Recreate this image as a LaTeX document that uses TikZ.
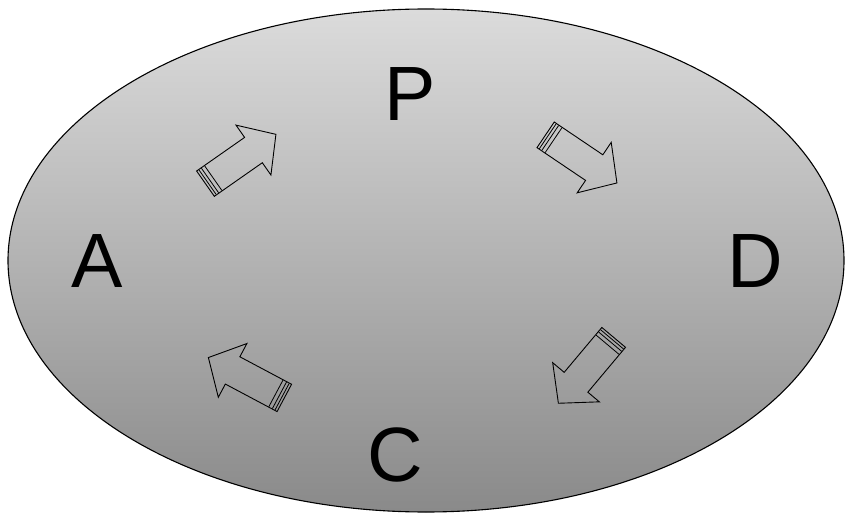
\documentclass[tikz,border=0pt]{standalone}
\usepackage{fontspec}
\setmainfont{Liberation Sans}
\usetikzlibrary{shapes.arrows, calc}

\begin{document}
\begin{tikzpicture}[
    x=1pt, y=1pt,
    letter/.style={font=\fontsize{77}{77}\selectfont, anchor=base, inner sep=0pt},
    flow/.style={single arrow, draw, line width=0.9pt, inner xsep=0pt, inner ysep=15pt,
                 minimum height=86pt, minimum width=0pt,
                 single arrow head extend=15pt, single arrow tip angle=96}
]
\useasboundingbox (0,0) rectangle (845,512);
\draw[line width=1.1pt, top color=black!14, bottom color=black!46]
    (426,251.5) ellipse [x radius=418, y radius=251.5];

\node[letter] (p) at (410,391) {P};
\node[letter] (a) at (97,225) {A};
\node[letter] (d) at (755,225) {D};
\node[letter] (c) at (395,31) {C};

\node[flow, rotate=35] (ap) at (235,349) {};
\node[flow, rotate=-34] (pd) at (575.5,357) {};
\node[flow, rotate=-130] (dc) at (590.5,147) {};
\node[flow, rotate=152] (ca) at (252.5,131) {};

% stripes at the tails
\foreach \n in {ap,pd,dc,ca}
  \foreach \t in {3pt,6pt,10pt}
    \draw[line width=0.8pt] ($(\n.tail)!\t!(\n.tip)!15pt!90:(\n.tip)$)
        -- ($(\n.tail)!\t!(\n.tip)!15pt!-90:(\n.tip)$);

\end{tikzpicture}
\end{document}
